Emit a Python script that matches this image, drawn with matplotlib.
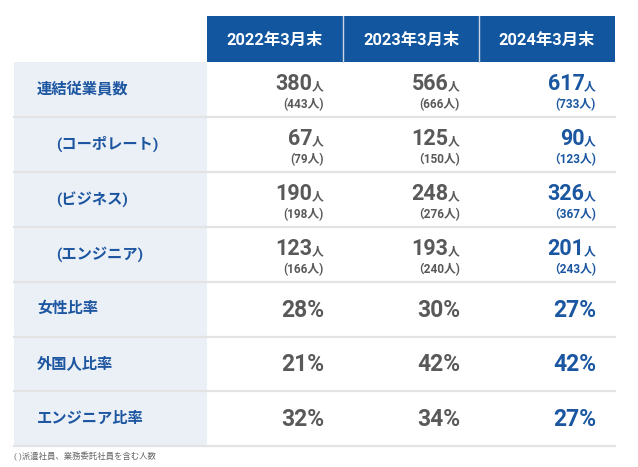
import matplotlib
matplotlib.use("Agg")
import matplotlib.pyplot as plt
from matplotlib.patches import Rectangle

plt.rcParams['font.family'] = ['Roboto', 'Noto Sans CJK JP', 'DejaVu Sans']

# data
headers = ['2022年3月末', '2023年3月末', '2024年3月末']
row_labels = ['連結従業員数', '(コーポレート)', '(ビジネス)', '(エンジニア)',
              '女性比率', '外国人比率', 'エンジニア比率']
label_indent = [0, 1, 1, 1, 0, 0, 0]
main_counts = [[380, 566, 617],
               [67, 125, 90],
               [190, 248, 326],
               [123, 193, 201]]
sub_counts = [['(443人)', '(666人)', '(733人)'],
              ['(79人)', '（150人)', '（123人)'],
              ['(198人)', '（276人)', '（367人)'],
              ['(166人)', '（240人)', '（243人)']]
ratios = [[28, 30, 27],
          [21, 42, 42],
          [32, 34, 27]]
footnote = '( )派遣社員、業務委託社員を含む人数'

# colours
header_blue = '#12569f'
label_bg = '#ebf0f7'
label_col = '#1d56a0'
grey_txt = '#595959'
blue_txt = '#1b56a1'
line_col = '#e3e3e3'

fig = plt.figure(figsize=(6.38, 4.67), dpi=100)
ax = fig.add_axes([0, 0, 1, 1])
ax.set_xlim(0, 638)
ax.set_ylim(467, 0)
ax.axis('off')

left, lab_right, right = 14, 207, 615
col_edges = [207, 343, 479, 615]
head_top, head_bot = 16, 62
row_h = 54.9

# header
for i, h in enumerate(headers):
    x0, x1 = col_edges[i], col_edges[i + 1]
    ax.add_patch(Rectangle((x0, head_top), x1 - x0, head_bot - head_top,
                           color=header_blue, lw=0))
    ax.text((x0 + x1) / 2, (head_top + head_bot) / 2 + 1, h, color='white',
            fontsize=11.8, fontweight='bold', ha='center', va='center')
for x in col_edges[1:-1]:
    ax.plot([x, x], [head_top, head_bot], color='#c9d6e8', lw=1)

# label column background
n = len(row_labels)
ax.add_patch(Rectangle((left, head_bot), lab_right - left, row_h * n,
                       color=label_bg, lw=0))

for r, lab in enumerate(row_labels):
    y0 = head_bot + r * row_h
    yc = y0 + row_h / 2
    ax.text(37 + 19 * label_indent[r], yc, lab, color=label_col,
            fontsize=11, fontweight='bold', ha='left', va='center')
    ax.plot([left, right], [y0 + row_h, y0 + row_h], color=line_col, lw=1.6)

    for c in range(3):
        xr = col_edges[c + 1] - 19
        col = blue_txt if c == 2 else grey_txt
        if r < 4:
            ax.text(xr, y0 + 28.5, '人', color=col, fontsize=8.5,
                    fontweight='bold', ha='right', va='baseline')
            ax.text(xr - 11.5, y0 + 28.5, str(main_counts[r][c]), color=col,
                    fontsize=15.5, fontweight='bold', ha='right', va='baseline')
            ax.text(xr, y0 + 46.5, sub_counts[r][c], color=col, fontsize=8.5,
                    fontweight='bold', ha='right', va='baseline')
        else:
            ax.text(xr, yc + 1, f'{ratios[r - 4][c]}%', color=col,
                    fontsize=16.5, fontweight='bold', ha='right', va='center')

ax.text(left, 456, footnote, color='#666666', fontsize=6, ha='left', va='center')

fig.savefig('out.png', dpi=100)
